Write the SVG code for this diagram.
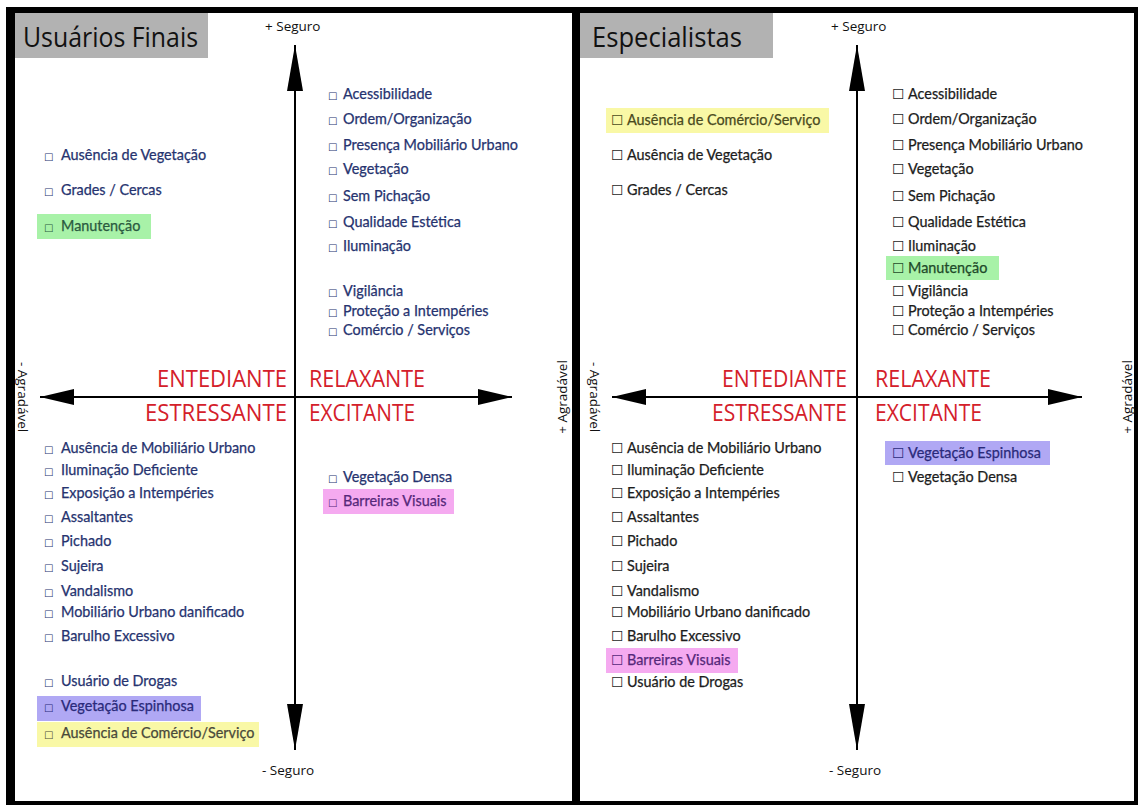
<svg xmlns="http://www.w3.org/2000/svg" width="1138" height="805" viewBox="0 0 1138 805">
  <style>
    .item { font-family: Lato, "Open Sans", sans-serif; font-size: 14.4px; stroke-width: 0.25px; }
    .user { fill: #26336f; stroke: #26336f; }
    .expert { fill: #1c1c1c; stroke: #1c1c1c; }
    .sbox { font-family: "DejaVu Sans", sans-serif; font-size: 10px; stroke: none; }
    .lbox { font-family: "DejaVu Sans", sans-serif; font-size: 14px; stroke: none; }
    .mood { font-family: "Open Sans", sans-serif; font-size: 23px; fill: #d4202a; }
    .title { font-family: "Open Sans", sans-serif; font-size: 28px; fill: #111; }
    .axislbl { font-family: "Open Sans", sans-serif; font-size: 13.5px; fill: #111; }
    .axis { stroke: #000; stroke-width: 2; fill: none; }
    .frame { fill: #000; }
    .hdr { fill: #b2b2b2; }
    .hl-green { fill: #a8f2a8; }
    .hl-yellow { fill: #f9f8a6; }
    .hl-purple { fill: #b0a8f4; }
    .hl-pink { fill: #f5aaf0; }
  </style>
  <defs>
    <marker id="headV" markerUnits="userSpaceOnUse" viewBox="0 0 46 16" markerWidth="46" markerHeight="16" refX="46" refY="8" orient="auto-start-reverse">
      <path d="M0,0 L46,8 L0,16 Z" fill="#000"/>
    </marker>
    <marker id="headH" markerUnits="userSpaceOnUse" viewBox="0 0 34 16" markerWidth="34" markerHeight="16" refX="34" refY="8" orient="auto-start-reverse">
      <path d="M0,0 L34,8 L0,16 Z" fill="#000"/>
    </marker>
  </defs>

  <rect width="1138" height="805" fill="#fff"/>

  <!-- outer frame and divider -->
  <g id="frame">
    <rect class="frame" x="6" y="7" width="1132" height="6"/>
    <rect class="frame" x="6" y="7" width="9" height="798"/>
    <rect class="frame" x="572" y="7" width="8" height="798"/>
    <rect class="frame" x="1134" y="7" width="4" height="798"/>
    <rect class="frame" x="6" y="801" width="1132" height="4"/>
  </g>

  <!-- axes -->
  <g id="connectors">
    <line class="axis" x1="295" y1="45" x2="295" y2="750" marker-start="url(#headV)" marker-end="url(#headV)"/>
    <line class="axis" x1="40" y1="397" x2="512" y2="397" marker-start="url(#headH)" marker-end="url(#headH)"/>
    <line class="axis" x1="857" y1="45" x2="857" y2="750" marker-start="url(#headV)" marker-end="url(#headV)"/>
    <line class="axis" x1="612" y1="397" x2="1082" y2="397" marker-start="url(#headH)" marker-end="url(#headH)"/>
  </g>

  <!-- ===== Left panel: end users ===== -->
  <g id="panel-users">
    <g id="users-title">
      <rect class="hdr" x="15" y="13" width="193" height="45"/>
      <text class="title" x="23" y="47" textLength="175" lengthAdjust="spacingAndGlyphs">Usuários Finais</text>
    </g>
    <g id="users-axis-labels">
      <text class="axislbl" x="265" y="31">+ Seguro</text>
      <text class="axislbl" x="262" y="775">- Seguro</text>
      <text class="axislbl" text-anchor="middle" transform="translate(18,397) rotate(90)">- Agradável</text>
      <text class="axislbl" text-anchor="middle" transform="translate(567,397) rotate(-90)">+ Agradável</text>
    </g>
    <g id="users-moods">
      <text class="mood" x="287" y="387" text-anchor="end" textLength="130" lengthAdjust="spacingAndGlyphs">ENTEDIANTE</text>
      <text class="mood" x="309" y="387" textLength="116" lengthAdjust="spacingAndGlyphs">RELAXANTE</text>
      <text class="mood" x="287" y="421" text-anchor="end" textLength="142" lengthAdjust="spacingAndGlyphs">ESTRESSANTE</text>
      <text class="mood" x="309" y="421" textLength="106" lengthAdjust="spacingAndGlyphs">EXCITANTE</text>
    </g>

    <g id="users-q-boring" class="item user">
      <text y="160"><tspan class="sbox" x="44">□</tspan><tspan x="61">Ausência de Vegetação</tspan></text>
      <text y="195"><tspan class="sbox" x="44">□</tspan><tspan x="61">Grades / Cercas</tspan></text>
      <rect class="hl-green" x="37" y="214" width="114" height="25" stroke="none"/>
      <text y="231" fill="#2a5a40" stroke="#2a5a40"><tspan class="sbox" x="44">□</tspan><tspan x="61">Manutenção</tspan></text>
    </g>

    <g id="users-q-relaxing" class="item user">
      <text y="99"><tspan class="sbox" x="328">□</tspan><tspan x="343">Acessibilidade</tspan></text>
      <text y="124"><tspan class="sbox" x="328">□</tspan><tspan x="343">Ordem/Organização</tspan></text>
      <text y="150"><tspan class="sbox" x="328">□</tspan><tspan x="343">Presença Mobiliário Urbano</tspan></text>
      <text y="174"><tspan class="sbox" x="328">□</tspan><tspan x="343">Vegetação</tspan></text>
      <text y="201"><tspan class="sbox" x="328">□</tspan><tspan x="343">Sem Pichação</tspan></text>
      <text y="227"><tspan class="sbox" x="328">□</tspan><tspan x="343">Qualidade Estética</tspan></text>
      <text y="251"><tspan class="sbox" x="328">□</tspan><tspan x="343">Iluminação</tspan></text>
      <text y="296"><tspan class="sbox" x="328">□</tspan><tspan x="343">Vigilância</tspan></text>
      <text y="316"><tspan class="sbox" x="328">□</tspan><tspan x="343">Proteção a Intempéries</tspan></text>
      <text y="335"><tspan class="sbox" x="328">□</tspan><tspan x="343">Comércio / Serviços</tspan></text>
    </g>

    <g id="users-q-stressful" class="item user">
      <text y="453"><tspan class="sbox" x="44">□</tspan><tspan x="61">Ausência de Mobiliário Urbano</tspan></text>
      <text y="475"><tspan class="sbox" x="44">□</tspan><tspan x="61">Iluminação Deficiente</tspan></text>
      <text y="498"><tspan class="sbox" x="44">□</tspan><tspan x="61">Exposição a Intempéries</tspan></text>
      <text y="522"><tspan class="sbox" x="44">□</tspan><tspan x="61">Assaltantes</tspan></text>
      <text y="546"><tspan class="sbox" x="44">□</tspan><tspan x="61">Pichado</tspan></text>
      <text y="571"><tspan class="sbox" x="44">□</tspan><tspan x="61">Sujeira</tspan></text>
      <text y="596"><tspan class="sbox" x="44">□</tspan><tspan x="61">Vandalismo</tspan></text>
      <text y="617"><tspan class="sbox" x="44">□</tspan><tspan x="61">Mobiliário Urbano danificado</tspan></text>
      <text y="641"><tspan class="sbox" x="44">□</tspan><tspan x="61">Barulho Excessivo</tspan></text>
      <text y="686"><tspan class="sbox" x="44">□</tspan><tspan x="61">Usuário de Drogas</tspan></text>
      <rect class="hl-purple" x="37" y="696" width="164" height="25" stroke="none"/>
      <text y="711" fill="#2a2a7a" stroke="#2a2a7a"><tspan class="sbox" x="44">□</tspan><tspan x="61">Vegetação Espinhosa</tspan></text>
      <rect class="hl-yellow" x="37" y="722" width="222" height="25" stroke="none"/>
      <text y="738" fill="#4a4a3a" stroke="#4a4a3a"><tspan class="sbox" x="44">□</tspan><tspan x="61">Ausência de Comércio/Serviço</tspan></text>
    </g>

    <g id="users-q-exciting" class="item user">
      <text y="482"><tspan class="sbox" x="328">□</tspan><tspan x="343">Vegetação Densa</tspan></text>
      <rect class="hl-pink" x="323" y="489" width="131" height="25" stroke="none"/>
      <text y="506" fill="#55287a" stroke="#55287a"><tspan class="sbox" x="328">□</tspan><tspan x="343">Barreiras Visuais</tspan></text>
    </g>
  </g>

  <!-- ===== Right panel: specialists ===== -->
  <g id="panel-experts">
    <g id="experts-title">
      <rect class="hdr" x="580" y="13" width="193" height="45"/>
      <text class="title" x="592" y="47" textLength="150" lengthAdjust="spacingAndGlyphs">Especialistas</text>
    </g>
    <g id="experts-axis-labels">
      <text class="axislbl" x="831" y="31">+ Seguro</text>
      <text class="axislbl" x="829" y="775">- Seguro</text>
      <text class="axislbl" text-anchor="middle" transform="translate(590,397) rotate(90)">- Agradável</text>
      <text class="axislbl" text-anchor="middle" transform="translate(1132,397) rotate(-90)">+ Agradável</text>
    </g>
    <g id="experts-moods">
      <text class="mood" x="847" y="387" text-anchor="end" textLength="125" lengthAdjust="spacingAndGlyphs">ENTEDIANTE</text>
      <text class="mood" x="875" y="387" textLength="116" lengthAdjust="spacingAndGlyphs">RELAXANTE</text>
      <text class="mood" x="847" y="421" text-anchor="end" textLength="135" lengthAdjust="spacingAndGlyphs">ESTRESSANTE</text>
      <text class="mood" x="875" y="421" textLength="107" lengthAdjust="spacingAndGlyphs">EXCITANTE</text>
    </g>

    <g id="experts-q-boring" class="item expert">
      <rect class="hl-yellow" x="606" y="108" width="223" height="25" stroke="none"/>
      <text y="125" fill="#4a4a20" stroke="#4a4a20"><tspan class="lbox" x="611">☐</tspan><tspan x="627">Ausência de Comércio/Serviço</tspan></text>
      <text y="160"><tspan class="lbox" x="611">☐</tspan><tspan x="627">Ausência de Vegetação</tspan></text>
      <text y="195"><tspan class="lbox" x="611">☐</tspan><tspan x="627">Grades / Cercas</tspan></text>
    </g>

    <g id="experts-q-relaxing" class="item expert">
      <text y="99"><tspan class="lbox" x="892">☐</tspan><tspan x="908">Acessibilidade</tspan></text>
      <text y="124"><tspan class="lbox" x="892">☐</tspan><tspan x="908">Ordem/Organização</tspan></text>
      <text y="150"><tspan class="lbox" x="892">☐</tspan><tspan x="908">Presença Mobiliário Urbano</tspan></text>
      <text y="174"><tspan class="lbox" x="892">☐</tspan><tspan x="908">Vegetação</tspan></text>
      <text y="201"><tspan class="lbox" x="892">☐</tspan><tspan x="908">Sem Pichação</tspan></text>
      <text y="227"><tspan class="lbox" x="892">☐</tspan><tspan x="908">Qualidade Estética</tspan></text>
      <text y="251"><tspan class="lbox" x="892">☐</tspan><tspan x="908">Iluminação</tspan></text>
      <rect class="hl-green" x="886" y="256" width="113" height="24" stroke="none"/>
      <text y="273" fill="#1e4a2a" stroke="#1e4a2a"><tspan class="lbox" x="892">☐</tspan><tspan x="908">Manutenção</tspan></text>
      <text y="296"><tspan class="lbox" x="892">☐</tspan><tspan x="908">Vigilância</tspan></text>
      <text y="316"><tspan class="lbox" x="892">☐</tspan><tspan x="908">Proteção a Intempéries</tspan></text>
      <text y="335"><tspan class="lbox" x="892">☐</tspan><tspan x="908">Comércio / Serviços</tspan></text>
    </g>

    <g id="experts-q-stressful" class="item expert">
      <text y="453"><tspan class="lbox" x="611">☐</tspan><tspan x="627">Ausência de Mobiliário Urbano</tspan></text>
      <text y="475"><tspan class="lbox" x="611">☐</tspan><tspan x="627">Iluminação Deficiente</tspan></text>
      <text y="498"><tspan class="lbox" x="611">☐</tspan><tspan x="627">Exposição a Intempéries</tspan></text>
      <text y="522"><tspan class="lbox" x="611">☐</tspan><tspan x="627">Assaltantes</tspan></text>
      <text y="546"><tspan class="lbox" x="611">☐</tspan><tspan x="627">Pichado</tspan></text>
      <text y="571"><tspan class="lbox" x="611">☐</tspan><tspan x="627">Sujeira</tspan></text>
      <text y="596"><tspan class="lbox" x="611">☐</tspan><tspan x="627">Vandalismo</tspan></text>
      <text y="617"><tspan class="lbox" x="611">☐</tspan><tspan x="627">Mobiliário Urbano danificado</tspan></text>
      <text y="641"><tspan class="lbox" x="611">☐</tspan><tspan x="627">Barulho Excessivo</tspan></text>
      <rect class="hl-pink" x="606" y="648" width="132" height="25" stroke="none"/>
      <text y="665" fill="#55287a" stroke="#55287a"><tspan class="lbox" x="611">☐</tspan><tspan x="627">Barreiras Visuais</tspan></text>
      <text y="687"><tspan class="lbox" x="611">☐</tspan><tspan x="627">Usuário de Drogas</tspan></text>
    </g>

    <g id="experts-q-exciting" class="item expert">
      <rect class="hl-purple" x="885" y="441" width="165" height="24" stroke="none"/>
      <text y="458" fill="#2a2a7a" stroke="#2a2a7a"><tspan class="lbox" x="892">☐</tspan><tspan x="908">Vegetação Espinhosa</tspan></text>
      <text y="482"><tspan class="lbox" x="892">☐</tspan><tspan x="908">Vegetação Densa</tspan></text>
    </g>
  </g>
</svg>
